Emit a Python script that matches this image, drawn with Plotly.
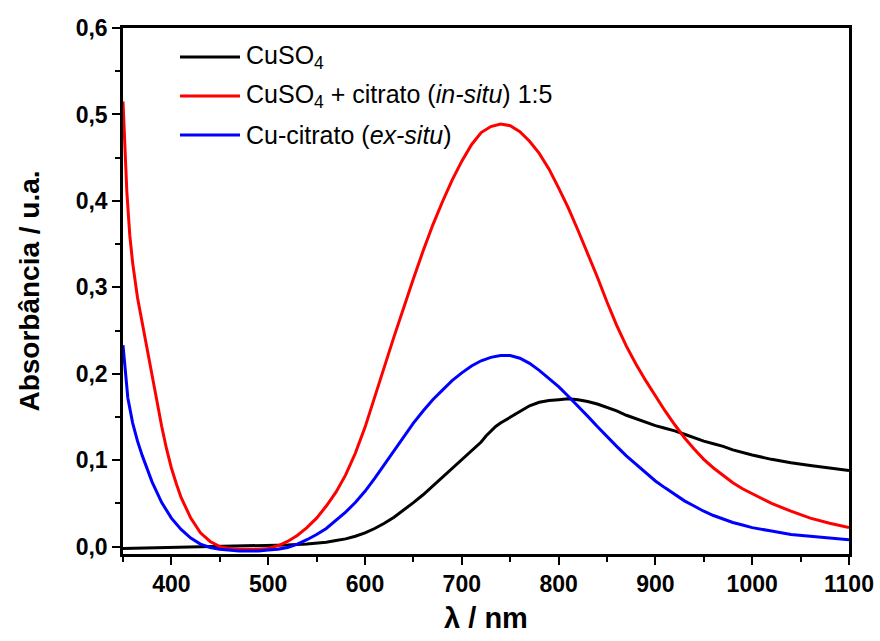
import plotly.graph_objects as go

# ---------------- data ----------------
wl_red = [350, 352, 354, 357, 360, 365, 370, 375, 380, 385, 390, 395, 400, 405, 410,
          420, 430, 440, 450, 460, 470, 480, 490, 500, 510, 520, 530, 540, 550, 560,
          570, 580, 590, 600, 610, 620, 630, 640, 650, 660, 670, 680, 690, 700, 710,
          720, 730, 740, 750, 760, 770, 780, 790, 800, 810, 820, 830, 840, 850, 860,
          870, 880, 890, 900, 910, 920, 930, 940, 950, 960, 970, 980, 990, 1000, 1020,
          1040, 1060, 1080, 1100]
abs_red = [0.515, 0.46, 0.41, 0.36, 0.328, 0.288, 0.258, 0.226, 0.197, 0.167, 0.139, 0.113, 0.091, 0.073, 0.057,
           0.033, 0.016, 0.006, 0.000, -0.002, -0.003, -0.003, -0.003, -0.002, 0.001, 0.006, 0.013, 0.022, 0.033, 0.047,
           0.063, 0.083, 0.108, 0.138, 0.172, 0.208, 0.243, 0.277, 0.310, 0.342, 0.372, 0.399, 0.424, 0.446, 0.465,
           0.479, 0.486, 0.489, 0.487, 0.480, 0.469, 0.455, 0.437, 0.415, 0.392, 0.366, 0.340, 0.312, 0.283, 0.256,
           0.232, 0.211, 0.192, 0.174, 0.157, 0.141, 0.126, 0.113, 0.101, 0.091, 0.082, 0.074, 0.067, 0.061, 0.050,
           0.041, 0.033, 0.027, 0.022]

wl_blue = [350, 352, 355, 360, 365, 370, 375, 380, 390, 400, 410, 420, 430, 440, 450,
           460, 470, 480, 490, 500, 510, 520, 530, 540, 550, 560, 570, 580, 590, 600,
           610, 620, 630, 640, 650, 660, 670, 680, 690, 700, 710, 720, 730, 740, 750,
           760, 770, 780, 790, 800, 810, 820, 830, 840, 850, 860, 870, 880, 890, 900,
           910, 920, 930, 940, 950, 960, 970, 980, 990, 1000, 1020, 1040, 1060, 1080, 1100]
abs_blue = [0.233, 0.205, 0.172, 0.143, 0.122, 0.105, 0.089, 0.075, 0.051, 0.033, 0.020, 0.010, 0.003, -0.001, -0.003,
            -0.004, -0.005, -0.005, -0.005, -0.004, -0.003, -0.001, 0.003, 0.008, 0.014, 0.021, 0.030, 0.040, 0.051, 0.064,
            0.079, 0.095, 0.112, 0.128, 0.143, 0.157, 0.170, 0.181, 0.192, 0.201, 0.209, 0.215, 0.219, 0.221, 0.221,
            0.218, 0.212, 0.204, 0.195, 0.185, 0.174, 0.163, 0.151, 0.139, 0.127, 0.116, 0.105, 0.095, 0.085, 0.076,
            0.068, 0.060, 0.053, 0.047, 0.041, 0.036, 0.032, 0.028, 0.025, 0.022, 0.018, 0.014, 0.012, 0.010, 0.008]

wl_black = [350, 400, 450, 500, 520, 540, 560, 570, 580, 590, 600, 610, 620, 630, 640,
            650, 660, 670, 680, 690, 700, 710, 720, 725, 730, 735, 740, 750, 760, 770,
            780, 790, 800, 810, 820, 830, 840, 850, 860, 870, 880, 890, 900, 910, 920,
            930, 940, 950, 960, 970, 980, 990, 1000, 1020, 1040, 1060, 1080, 1100]
abs_black = [-0.002, -0.001, 0.000, 0.001, 0.002, 0.003, 0.005, 0.007, 0.009, 0.012, 0.016, 0.021, 0.027, 0.034, 0.042,
             0.051, 0.060, 0.070, 0.080, 0.090, 0.100, 0.110, 0.121, 0.128, 0.134, 0.139, 0.143, 0.150, 0.157, 0.163,
             0.167, 0.169, 0.170, 0.171, 0.170, 0.168, 0.165, 0.161, 0.157, 0.152, 0.148, 0.144, 0.140, 0.137, 0.134,
             0.130, 0.126, 0.122, 0.119, 0.116, 0.112, 0.109, 0.106, 0.101, 0.097, 0.094, 0.091, 0.088]

series_names = ["CuSO<sub>4</sub>",
                "CuSO<sub>4</sub> + citrato (<i>in-situ</i>) 1:5",
                "Cu-citrato (<i>ex-situ</i>)"]
series_colors = ["#000000", "#ff0000", "#0000ff"]

x_tick_vals = [400, 500, 600, 700, 800, 900, 1000, 1100]
y_tick_vals = [0.0, 0.1, 0.2, 0.3, 0.4, 0.5, 0.6]

# ---------------- figure ----------------
W, H = 880, 641
ML, MR, MT, MB = 123, 31, 28, 87
PW, PH = W - ML - MR, H - MT - MB

fig = go.Figure()
for wl, ab, col in [(wl_black, abs_black, series_colors[0]),
                    (wl_red, abs_red, series_colors[1]),
                    (wl_blue, abs_blue, series_colors[2])]:
    fig.add_trace(go.Scatter(x=wl, y=ab, mode="lines",
                             line=dict(color=col, width=3),
                             showlegend=False, hoverinfo="skip"))

FONT = "Liberation Sans, Arial, sans-serif"

def px2paper(px, py):
    return (px - ML) / PW, (H - MB - py) / PH

# manual legend
leg_rows = [57, 96, 135]
for name, col, ry in zip(series_names, series_colors, leg_rows):
    x0, y0 = px2paper(180, ry)
    x1, _ = px2paper(240, ry)
    fig.add_shape(type="line", xref="paper", yref="paper", x0=x0, x1=x1, y0=y0, y1=y0,
                  line=dict(color=col, width=3))
    tx, ty = px2paper(244, ry)
    fig.add_annotation(xref="paper", yref="paper", x=tx, y=ty, text=name, showarrow=False,
                       xanchor="left", yanchor="middle",
                       font=dict(family=FONT, size=25, color="#000000"))

axis_common = dict(showgrid=False, zeroline=False, showline=True, linecolor="#000000",
                   linewidth=2.5, mirror=True, ticks="outside", ticklen=8, tickwidth=2,
                   tickcolor="#000000",
                   tickfont=dict(family=FONT, size=23, color="#000000", weight="bold"))

fig.update_xaxes(range=[350, 1100], tickvals=x_tick_vals,
                 minor=dict(dtick=50, tick0=0, ticks="outside", ticklen=5, tickwidth=2, tickcolor="#000000"),
                 title=dict(text="λ / nm", font=dict(family=FONT, size=29, color="#000000", weight="bold"),
                            standoff=12),
                 **axis_common)
fig.update_yaxes(range=[-0.0085, 0.6], tickvals=y_tick_vals, tickformat=".1f",
                 minor=dict(dtick=0.05, tick0=0, ticks="outside", ticklen=5, tickwidth=2, tickcolor="#000000"),
                 title=dict(text="Absorbância / u.a.", font=dict(family=FONT, size=28, color="#000000", weight="bold"),
                            standoff=28),
                 **axis_common)

fig.update_layout(width=W, height=H, margin=dict(l=ML, r=MR, t=MT, b=MB, autoexpand=False),
                  plot_bgcolor="#ffffff", paper_bgcolor="#ffffff", separators=",.",
                  showlegend=False)

fig.write_html("out.html")
